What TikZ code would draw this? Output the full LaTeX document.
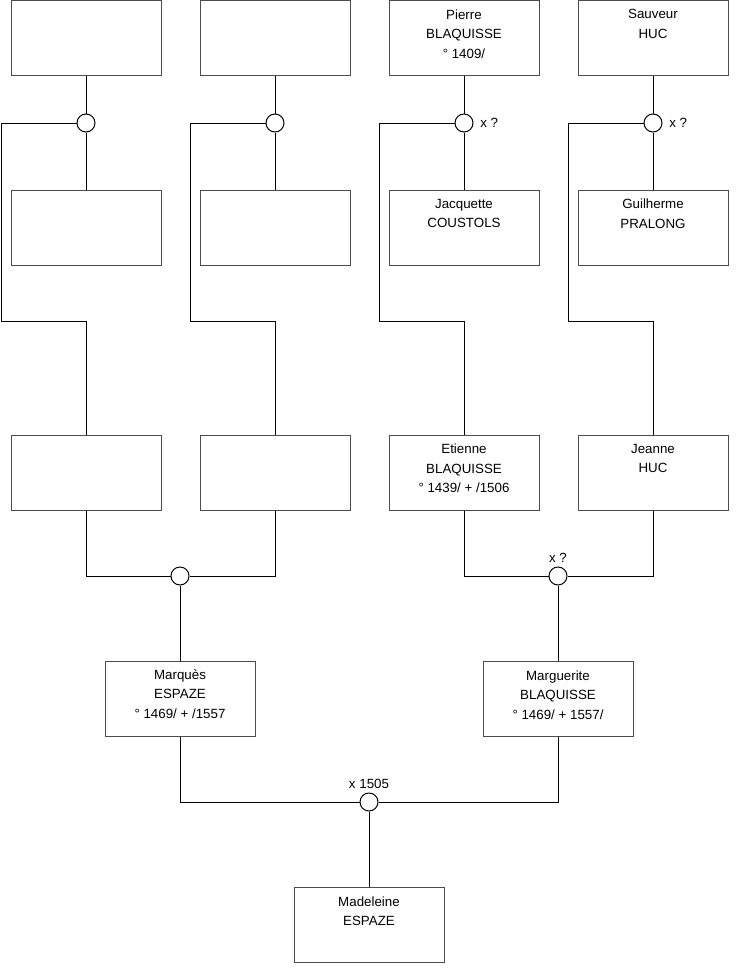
\documentclass[tikz,border=0pt]{standalone}
\usepackage{fontspec}
\setmainfont{Liberation Sans}
\begin{document}
\begin{tikzpicture}[x=0.75pt,y=-0.75pt,
    person/.style={draw=black!70,line width=0.75pt,minimum width=112.5pt,minimum height=56.25pt,inner sep=0pt},
    ptext/.style={anchor=north,align=center,inner sep=0pt,font=\fontsize{10}{14.6}\selectfont},
    union/.style={draw,circle,line width=0.75pt,minimum size=13.5pt,inner sep=0pt,fill=white},
    note/.style={inner sep=0pt,font=\fontsize{10}{11}\selectfont},
    link/.style={line width=0.75pt}]
    \useasboundingbox (0,0) rectangle (740,975);
    % great-grandparents
    \node[person] (g3a) at (86,38) {};
    \node[person] (g3b) at (275,38) {};
    \node[person] (g3c) at (464,38) {};
    \node[person] (g3d) at (653,38) {};
    \node[person] (g3e) at (86,227.5) {};
    \node[person] (g3f) at (275,227.5) {};
    \node[person] (g3g) at (464,227.5) {};
    \node[person] (g3h) at (653,227.5) {};
    \node[ptext] (t3c) at ([yshift=-7pt]g3c.north) {Pierre\\BLAQUISSE\\° 1409/};
    \node[ptext] (t3d) at ([yshift=-7pt]g3d.north) {Sauveur\\HUC};
    \node[ptext] (t3g) at ([yshift=-7pt]g3g.north) {Jacquette\\COUSTOLS};
    \node[ptext] (t3h) at ([yshift=-7pt]g3h.north) {Guilherme\\PRALONG};
    % grandparents
    \node[person] (g2a) at (86,472.5) {};
    \node[person] (g2b) at (275,472.5) {};
    \node[person] (g2c) at (464,472.5) {};
    \node[person] (g2d) at (653,472.5) {};
    \node[ptext] (t2c) at ([yshift=-7pt]g2c.north) {Etienne\\BLAQUISSE\\° 1439/ + /1506};
    \node[ptext] (t2d) at ([yshift=-7pt]g2d.north) {Jeanne\\HUC};
    % parents
    \node[person] (g1a) at (180,699) {};
    \node[person] (g1b) at (558,699) {};
    \node[ptext] (t1a) at ([yshift=-6.3pt]g1a.north) {Marquès\\ESPAZE\\° 1469/ + /1557};
    \node[ptext] (t1b) at ([yshift=-7pt]g1b.north) {Marguerite\\BLAQUISSE\\° 1469/ + 1557/};
    \node[person] (root) at (369,925) {};
    \node[ptext] (t0) at ([yshift=-7pt]root.north) {Madeleine\\ESPAZE};
    % unions
    \node[union] (m3a) at (86,123) {};
    \node[union] (m3b) at (275,123) {};
    \node[union] (m3c) at (464,123) {};
    \node[union] (m3d) at (653,123) {};
    \node[union] (m2a) at (180,576) {};
    \node[union] (m2b) at (558,576) {};
    \node[union] (m1) at (369,802) {};
    \node[note,anchor=west] (x3c) at ([xshift=12pt]m3c.center) {x ?};
    \node[note,anchor=west] (x3d) at ([xshift=12pt]m3d.center) {x ?};
    \node[note,anchor=south] (x2b) at ([yshift=2.5pt]m2b.north) {x ?};
    \node[note,anchor=south] (x1) at ([yshift=2.5pt]m1.north) {x 1505};
    \coordinate (r3a) at (1,321);
    \coordinate (r3b) at (190,321);
    \coordinate (r3c) at (379,321);
    \coordinate (r3d) at (568,321);
    % connectors
    \foreach \u/\f/\m/\r/\c in {m3a/g3a/g3e/r3a/g2a,m3b/g3b/g3f/r3b/g2b,m3c/g3c/g3g/r3c/g2c,m3d/g3d/g3h/r3d/g2d}{
        \draw[link] (\f.south) -- (\u.north);
        \draw[link] (\u.south) -- (\m.north);
        \draw[link] (\u.west) -| (\r) -| (\c.north);
    }
    \draw[link] (g2a.south) |- (m2a.west);
    \draw[link] (g2b.south) |- (m2a.east);
    \draw[link] (g2c.south) |- (m2b.west);
    \draw[link] (g2d.south) |- (m2b.east);
    \draw[link] (m2a.south) -- (g1a.north);
    \draw[link] (m2b.south) -- (g1b.north);
    \draw[link] (g1a.south) |- (m1.west);
    \draw[link] (g1b.south) |- (m1.east);
    \draw[link] (m1.south) -- (root.north);
\end{tikzpicture}
\end{document}
